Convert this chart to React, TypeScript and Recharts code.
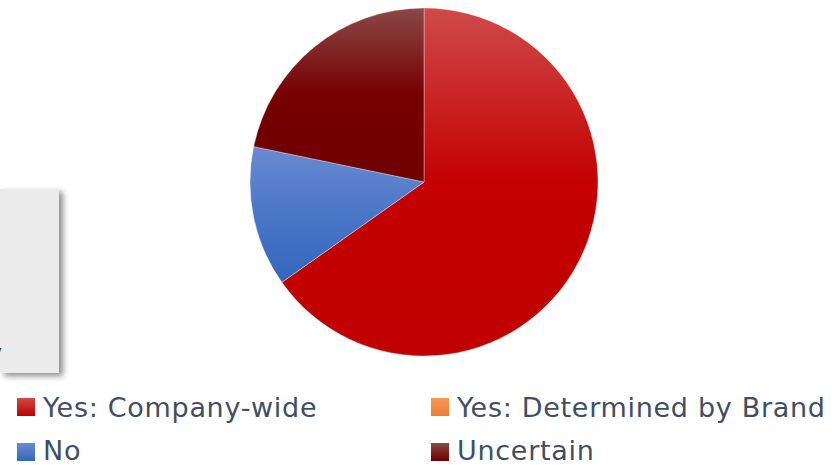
import { Cell, Pie, PieChart } from "recharts";

const categories = [
  "Yes: Company-wide",
  "Yes: Determined by Brand",
  "No",
  "Uncertain",
];
const counts = [15, 0, 3, 5];

// base colour, lighter top tint for the slice gradients
const fills = ["#c00000", "#ed7d31", "#3366bb", "#700000"];
const tops = ["#cf4a4a", "#f39a5c", "#6a8ad0", "#8a4848"];
const mids = ["#c40000", "#ee8030", "#4a76c8", "#760000"];

const data = categories.map((name, i) => ({ name, value: counts[i] }));

const legendPos = [
  { x: 17, y: 398 },
  { x: 431, y: 398 },
  { x: 17, y: 443 },
  { x: 431, y: 443 },
];

export default function App() {
  return (
    <div
      style={{
        position: "relative",
        width: 832,
        height: 465,
        background: "#fff",
        overflow: "hidden",
        fontFamily: "'DejaVu Sans', sans-serif",
      }}
    >
      <style>{`body{margin:0}`}</style>

      {/* grey text box cut off at the left edge */}
      <div
        style={{
          position: "absolute",
          left: 0,
          top: 189,
          width: 59,
          height: 184,
          background: "#ebebeb",
          boxShadow: "4px 3px 6px rgba(0,0,0,0.45)",
        }}
      >
        <span
          style={{
            position: "absolute",
            left: -6,
            top: 155,
            fontSize: 13,
            color: "#222",
            lineHeight: 1,
          }}
        >
          y
        </span>
      </div>

      <div style={{ position: "absolute", left: 0, top: 0 }}>
        <PieChart width={832} height={380} margin={{ top: 0, right: 0, bottom: 0, left: 0 }}>
          <defs>
            {fills.map((c, i) => (
              <linearGradient key={i} id={`g${i}`} x1="0" y1="0" x2="0" y2="1">
                <stop offset="0%" stopColor={tops[i]} />
                <stop offset="50%" stopColor={mids[i]} />
                <stop offset="100%" stopColor={c} />
              </linearGradient>
            ))}
          </defs>
          <Pie
            data={data}
            dataKey="value"
            nameKey="name"
            cx={424}
            cy={182}
            outerRadius={174}
            startAngle={90}
            endAngle={-270}
            isAnimationActive={false}
            labelLine={false}
            stroke="rgba(255,255,255,0.45)"
            strokeWidth={0.8}
          >
            {data.map((d, i) => (
              <Cell key={d.name} fill={`url(#g${i})`} />
            ))}
          </Pie>
        </PieChart>
      </div>

      {categories.map((name, i) => (
        <div key={name}>
          <div
            style={{
              position: "absolute",
              left: legendPos[i].x,
              top: legendPos[i].y,
              width: 18,
              height: 18,
              background: `linear-gradient(${tops[i]}, ${fills[i]})`,
            }}
          />
          <div
            style={{
              position: "absolute",
              left: legendPos[i].x + 26,
              top: legendPos[i].y - (i < 2 ? 1 : 3),
              fontSize: 27,
              lineHeight: "22px",
              letterSpacing: 0.7,
              color: "#3f4e64",
              whiteSpace: "nowrap",
            }}
          >
            {name}
          </div>
        </div>
      ))}
    </div>
  );
}
